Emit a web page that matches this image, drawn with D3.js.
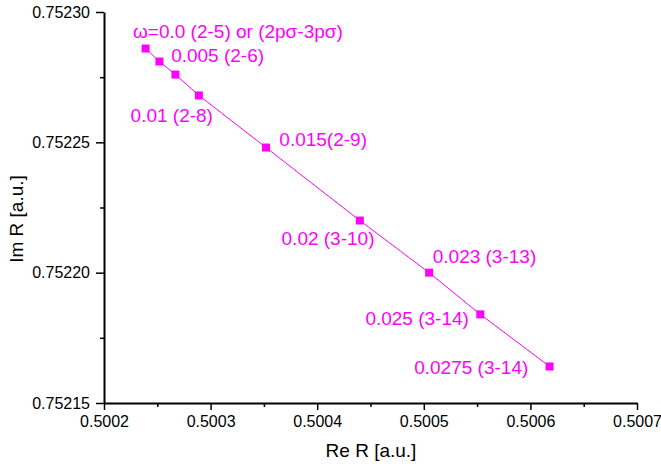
<!DOCTYPE html>
<html>
<head>
<meta charset="utf-8">
<script src="https://cdn.jsdelivr.net/npm/d3@7"></script>
<style>
  body { margin: 0; background: #fff; }
  text { font-family: "Liberation Sans", Arial, sans-serif; }
  .axis path, .axis line { stroke: #000; }
</style>
</head>
<body>
<div id="chart"></div>
<script>
// Data: Re R and Im R for each omega value
const reR = [0.500239, 0.500252, 0.500267, 0.500289, 0.500352, 0.500440, 0.500505, 0.500553, 0.500618];
const imR = [0.752286, 0.752281, 0.752276, 0.752268, 0.752248, 0.752220, 0.752200, 0.752184, 0.752164];
const pointLabels = ["\u03c9=0.0 (2-5) or (2p\u03c3-3p\u03c3)", "0.005 (2-6)", "", "0.01 (2-8)", "0.015(2-9)",
  "0.02 (3-10)", "0.023 (3-13)", "0.025 (3-14)", "0.0275 (3-14)"];
const xTicks = [0.5002, 0.5003, 0.5004, 0.5005, 0.5006, 0.5007];
const yTicks = [0.75215, 0.75220, 0.75225, 0.75230];

// label placement relative to its point (pixels)
const labelOffsets = [
  { dx: -12.6, dy: -10.6, anchor: "start" },
  { dx: 11.7, dy: 0, anchor: "start" },
  { dx: 0, dy: 0, anchor: "start" },
  { dx: -68.3, dy: 27, anchor: "start" },
  { dx: 13.3, dy: -2, anchor: "start" },
  { dx: -78.3, dy: 24, anchor: "start" },
  { dx: 3.6, dy: -9.3, anchor: "start" },
  { dx: -11.4, dy: 10.4, anchor: "end" },
  { dx: -21.3, dy: 7.7, anchor: "end" }
];

const width = 661, height = 468;
const color = "#ff00ff";

const svg = d3.select("#chart")
  .append("svg")
  .attr("width", width)
  .attr("height", height);

const xScale = d3.scaleLinear().domain([0.5002, 0.5007]).range([104, 637]);
const yScale = d3.scaleLinear().domain([0.75215, 0.75230]).range([403, 12]);

// minor ticks at the midpoints
const xMinor = xTicks.slice(0, -1).map((d, i) => (d + xTicks[i + 1]) / 2);
const yMinor = yTicks.slice(0, -1).map((d, i) => (d + yTicks[i + 1]) / 2);

svg.append("g")
  .attr("class", "axis")
  .attr("transform", "translate(0,403)")
  .call(d3.axisBottom(xScale).tickValues(xMinor).tickSize(4).tickFormat(""))
  .call(g => g.select(".domain").remove())
  .selectAll("line").attr("stroke-width", 1.5);

svg.append("g")
  .attr("class", "axis")
  .attr("transform", "translate(104,0)")
  .call(d3.axisLeft(yScale).tickValues(yMinor).tickSize(4).tickFormat(""))
  .call(g => g.select(".domain").remove())
  .selectAll("line").attr("stroke-width", 1.5);

const xAxis = svg.append("g")
  .attr("class", "axis")
  .attr("transform", "translate(0,403)")
  .call(d3.axisBottom(xScale).tickValues(xTicks).tickSize(7).tickSizeOuter(0).tickPadding(6).tickFormat(d3.format(".4f")));
xAxis.select(".domain").attr("stroke-width", 2);
xAxis.selectAll("line").attr("stroke-width", 1.5);
xAxis.selectAll("text").attr("font-size", 16).attr("fill", "#000");

const yAxis = svg.append("g")
  .attr("class", "axis")
  .attr("transform", "translate(104,0)")
  .call(d3.axisLeft(yScale).tickValues(yTicks).tickSize(8).tickSizeOuter(0).tickPadding(6).tickFormat(d3.format(".5f")));
yAxis.select(".domain").attr("stroke-width", 2);
yAxis.selectAll("line").attr("stroke-width", 1.5);
yAxis.selectAll("text").attr("font-size", 16).attr("fill", "#000");

// axis titles
svg.append("text")
  .attr("x", 371)
  .attr("y", 457)
  .attr("text-anchor", "middle")
  .attr("font-size", 19)
  .text("Re R [a.u.]");

svg.append("text")
  .attr("transform", "translate(23,219) rotate(-90)")
  .attr("text-anchor", "middle")
  .attr("font-size", 19)
  .text("Im R [a.u.]");

const pts = reR.map((d, i) => ({ x: d, y: imR[i], label: pointLabels[i], off: labelOffsets[i] }));

const line = d3.line()
  .x(d => xScale(d.x))
  .y(d => yScale(d.y));

svg.append("path")
  .datum(pts)
  .attr("fill", "none")
  .attr("stroke", color)
  .attr("stroke-width", 1)
  .attr("d", line);

svg.selectAll(".marker")
  .data(pts)
  .enter()
  .append("rect")
  .attr("class", "marker")
  .attr("x", d => xScale(d.x) - 4)
  .attr("y", d => yScale(d.y) - 4)
  .attr("width", 8)
  .attr("height", 8)
  .attr("fill", color);

svg.selectAll(".pt-label")
  .data(pts.filter(d => d.label !== ""))
  .enter()
  .append("text")
  .attr("class", "pt-label")
  .attr("x", d => xScale(d.x) + d.off.dx)
  .attr("y", d => yScale(d.y) + d.off.dy)
  .attr("text-anchor", d => d.off.anchor)
  .attr("font-size", 19)
  .attr("fill", color)
  .text(d => d.label);
</script>
</body>
</html>
